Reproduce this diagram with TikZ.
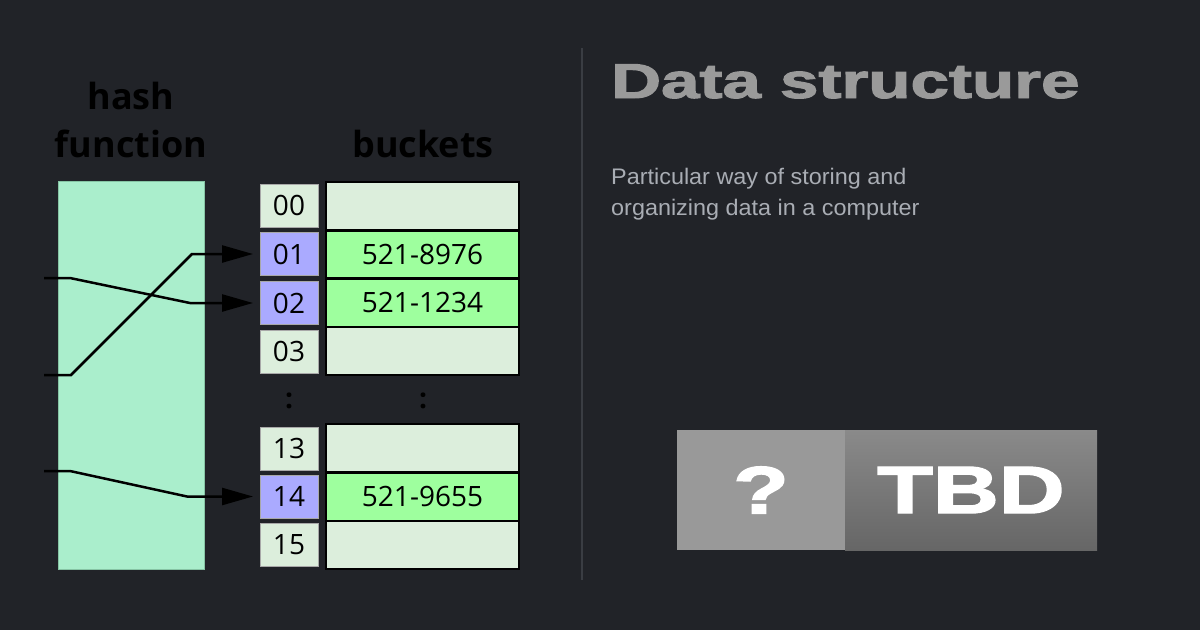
\documentclass[tikz,border=0pt]{standalone}
\usepackage{fontspec}
\usepackage{graphicx}
\usetikzlibrary{arrows.meta}
\setmainfont{Open Sans}
\newfontfamily\titlefont[FakeBold=2]{Liberation Sans}
\newfontfamily\subfont{Liberation Sans}
\definecolor{bg}{HTML}{212328}
\definecolor{divider}{HTML}{3A3D43}
\definecolor{hashgreen}{HTML}{AAEECC}
\definecolor{hashedge}{HTML}{86C4A4}
\definecolor{lightcell}{HTML}{DCEEDC}
\definecolor{greencell}{HTML}{9EFF9E}
\definecolor{purplecell}{HTML}{AAAAFF}
\definecolor{idxedge}{HTML}{A8A8A8}
\definecolor{titlegray}{HTML}{9A9A9A}
\definecolor{subgray}{HTML}{A9ADB4}
\definecolor{tbdleft}{HTML}{999999}
\definecolor{tbdtop}{HTML}{8A8A8A}
\definecolor{tbdbot}{HTML}{666666}
\tikzset{
  idxbox/.style={draw=idxedge, line width=0.8pt, fill=lightcell, minimum width=58pt, minimum height=43pt, inner sep=0pt, outer sep=0pt, font=\fontsize{28}{28}\selectfont},
  idxhit/.style={idxbox, fill=purplecell},
  valbox/.style={draw=black, line width=2.5pt, fill=lightcell, minimum width=193pt, minimum height=48.3pt, inner sep=0pt, outer sep=0pt, font=\fontsize{28}{28}\selectfont},
  valhit/.style={valbox, fill=greencell},
  heading/.style={font=\fontsize{36}{36}\selectfont\bfseries, text=black, inner sep=0pt, anchor=base},
  conn/.style={line width=2.5pt, black, -{Triangle[length=31pt,width=17pt]}, shorten >=7pt},
  dotsym/.style={font=\fontsize{28}{28}\selectfont\bfseries, text=black, inner sep=0pt},
}
\begin{document}
\begin{tikzpicture}[x=1pt,y=-1pt]
\fill[bg] (0,0) rectangle (1200,630);
\useasboundingbox (0,0) rectangle (1200,630);
% divider
\draw[divider, line width=1.2pt] (582,48) -- (582,580);
% hash function block
\node[heading] (h1) at (131,109) {hash};
\node[heading] (h2) at (131,157) {function};
\node[draw=hashedge, line width=0.8pt, fill=hashgreen, minimum width=146pt, minimum height=388pt, inner sep=0pt] (hf) at (131,375) {};
\node[heading] (bk) at (423,157) {buckets};
% index cells
\node[idxbox] (i00) at (289,205.5) {00};
\node[idxhit] (i01) at (289,254) {01};
\node[idxhit] (i02) at (289,303) {02};
\node[idxbox] (i03) at (289,351.5) {03};
\node[idxbox] (i13) at (289,448.5) {13};
\node[idxhit] (i14) at (289,496.5) {14};
\node[idxbox] (i15) at (289,545) {15};
% value cells
\node[valbox] (v00) at (422.5,206.1) {};
\node[valhit] (v01) at (422.5,254.4) {521-8976};
\node[valhit] (v02) at (422.5,302.7) {521-1234};
\node[valbox] (v03) at (422.5,351) {};
\node[valbox] (v13) at (422.5,448.3) {};
\node[valhit] (v14) at (422.5,496.6) {521-9655};
\node[valbox] (v15) at (422.5,544.9) {};
\node[dotsym] (d1) at (289,401) {:};
\node[dotsym] (d2) at (423,401) {:};
% connectors
\coordinate (s1) at (44,278);
\coordinate (s2) at (44,375);
\coordinate (s3) at (44,471);
\draw[conn] (s1) -- (70,278) -- (190,303) -- (i02.west);
\draw[conn] (s2) -- (71,375) -- (192,254) -- (i01.west);
\draw[conn] (s3) -- (70,471) -- (187,496.5) -- (i14.west);
% right side
\node[anchor=base west, inner sep=0pt, text=titlegray] (title) at (611,98) {\scalebox{1.41}[1]{\titlefont\fontsize{49}{49}\selectfont\bfseries Data structure}};
\node[anchor=base west, inner sep=0pt, text=subgray] (sub1) at (611,184) {\subfont\fontsize{22.5}{22.5}\selectfont\scalebox{1.04}[1]{Particular way of storing and}};
\node[anchor=base west, inner sep=0pt, text=subgray] (sub2) at (611,215) {\subfont\fontsize{22.5}{22.5}\selectfont\scalebox{1.04}[1]{organizing data in a computer}};
\node[fill=tbdleft, minimum width=168pt, minimum height=120pt, inner sep=0pt, outer sep=0pt, text=white] (q) at (761,490) {\scalebox{1.36}[1]{\titlefont\fontsize{67}{67}\selectfont\bfseries ?}};
\node[top color=tbdtop, bottom color=tbdbot, minimum width=252pt, minimum height=120pt, inner sep=0pt, outer sep=0pt, text=white] (tbd) at (971,490) {\scalebox{1.36}[1]{\titlefont\fontsize{67}{67}\selectfont\bfseries TBD}};
\end{tikzpicture}
\end{document}
